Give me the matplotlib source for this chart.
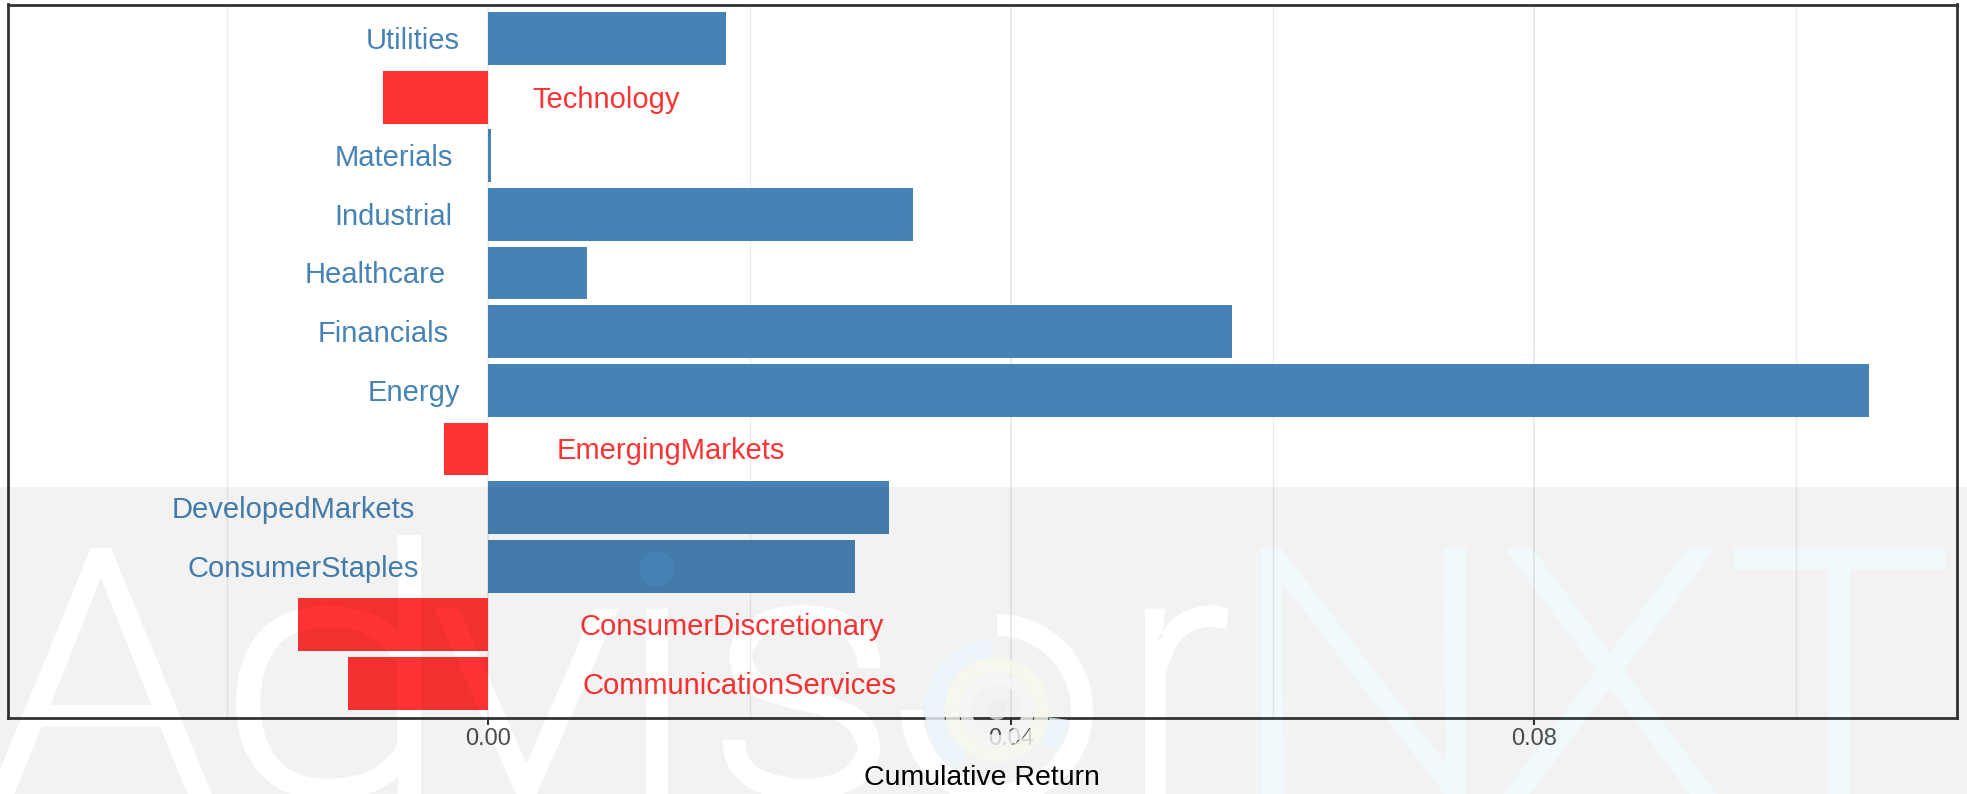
import numpy as np
import matplotlib
matplotlib.use('Agg')
import matplotlib.pyplot as plt
from matplotlib.path import Path
from matplotlib.patches import PathPatch, Circle
from matplotlib.textpath import TextPath
from matplotlib.font_manager import FontProperties
from matplotlib.transforms import Affine2D, offset_copy
from matplotlib.ticker import FixedLocator

# ---------------- data ----------------
sectors = ["CommunicationServices", "ConsumerDiscretionary", "ConsumerStaples",
           "DevelopedMarkets", "EmergingMarkets", "Energy", "Financials",
           "Healthcare", "Industrial", "Materials", "Technology", "Utilities"]
returns = [-0.0107, -0.0145, 0.0281, 0.0307, -0.0034, 0.1056, 0.0569,
           0.0076, 0.0325, 0.0002, -0.0080, 0.0182]
xticks = [0.00, 0.04, 0.08]
xtick_labels = ["0.00", "0.04", "0.08"]
minor_ticks = [-0.02, 0.02, 0.06, 0.10]
x_title = "Cumulative Return"
wm_white = ["A", "d", "v", "i", "s", "r"]
wm_cyan = ["N", "X", "T"]

POS_COLOR = '#4682B4'
NEG_COLOR = '#FF3333'

W, H = 1967, 794
DPI = 100
plt.rcParams['font.family'] = ['Liberation Sans', 'DejaVu Sans']

fig = plt.figure(figsize=(W / DPI, H / DPI), dpi=DPI, facecolor='white')
L, R, T, B = 7.5, 1956.5, 4.5, 717.5
ax = fig.add_axes([L / W, (H - B) / H, (R - L) / W, (B - T) / H])
ax.set_facecolor('white')

pos = np.arange(1, len(sectors) + 1)
colors = [POS_COLOR if v >= 0 else NEG_COLOR for v in returns]
ax.barh(pos, returns, height=0.9, color=colors, zorder=2)
ax.set_xlim(-0.03675, 0.11231)
ax.set_ylim(0.42, len(sectors) + 0.58)
ax.set_yticks([])
ax.xaxis.set_major_locator(FixedLocator(xticks))
ax.set_xticklabels(xtick_labels)
ax.xaxis.set_minor_locator(FixedLocator(minor_ticks))
ax.set_axisbelow(True)
ax.grid(True, which='major', axis='x', color='#EBEBEB', lw=1.4)
ax.grid(True, which='minor', axis='x', color='#EBEBEB', lw=1.0)
ax.tick_params(axis='x', which='major', length=5, width=1.5, color='#333333',
               labelsize=17, labelcolor='#4D4D4D', pad=2.5)
ax.tick_params(axis='x', which='minor', length=0)
ax.tick_params(axis='y', length=0)
for s in ax.spines.values():
    s.set_color('#333333')
    s.set_linewidth(2.0)
ax.set_xlabel(x_title, fontsize=20.5, color='black')
ax.xaxis.label.set_va('baseline')
ax.xaxis.set_label_coords(0.5, -(785 - B) / (B - T))

# bar labels: beside zero, offset by 30% of their width
renderer = fig.canvas.get_renderer()
fs = 21
for p, v, name in zip(pos, returns, sectors):
    c = POS_COLOR if v >= 0 else NEG_COLOR
    t = ax.text(0, p, name, ha='right' if v >= 0 else 'left', va='baseline',
                fontsize=fs, color=c, zorder=3)
    w = t.get_window_extent(renderer).width
    dx = -0.3 * w if v >= 0 else 0.3 * w
    t.set_transform(offset_copy(ax.transData, fig=fig, x=dx,
                                y=-0.358 * fs * DPI / 72, units='dots'))

# ---------------- watermark ----------------
pix = Affine2D().scale(1 / W, 1 / H) + fig.transFigure
fp = FontProperties(family=['Roboto', 'DejaVu Sans'], weight='light')


def sarea(p):
    x, y = p[:, 0], p[:, 1]
    return 0.5 * np.sum(x * np.roll(y, -1) - np.roll(x, -1) * y)


def clean(q):
    q = np.asarray(q, float)
    keep = [0]
    for i in range(1, len(q)):
        if np.hypot(*(q[i] - q[keep[-1]])) > 1e-6:
            keep.append(i)
    q = q[keep]
    if len(q) > 1 and np.hypot(*(q[-1] - q[0])) < 1e-6:
        q = q[:-1]
    return q


def offset_poly(q, d, sign):
    if d <= 0:
        return q
    en = np.roll(q, -1, 0) - q
    ep = q - np.roll(q, 1, 0)
    en /= np.hypot(en[:, 0], en[:, 1])[:, None]
    ep /= np.hypot(ep[:, 0], ep[:, 1])[:, None]
    nn = sign * np.c_[en[:, 1], -en[:, 0]]
    npv = sign * np.c_[ep[:, 1], -ep[:, 0]]
    m = nn + npv
    mn = np.hypot(m[:, 0], m[:, 1])
    mn[mn < 1e-9] = 1.0
    m /= mn[:, None]
    cosh = np.clip(np.sum(m * nn, axis=1), 0.5, 1.0)
    return q + m * (d / cosh)[:, None]


STEM = 22.0
CAP_TOP = 794 - 548
INK_BASE = -3.0
hp = TextPath((0, 0), 'H', size=100, prop=fp)
lp = TextPath((0, 0), 'l', size=100, prop=fp)
k0 = (CAP_TOP - INK_BASE) / hp.get_extents().y1
stem0 = lp.get_extents().width * k0
d = max(0.0, (STEM - stem0) / 2)
k = (CAP_TOP - INK_BASE - 2 * d) / hp.get_extents().y1
base = INK_BASE + d


def glyph(ch, x0=None, x1=None, cx=None, dot_y=None):
    tp = TextPath((0, 0), ch, size=100, prop=fp)
    polys = [clean(q) for q in tp.to_polygons()]
    polys = [q for q in polys if len(q) > 2]
    allp = np.vstack(polys)
    gx0, gx1 = allp[:, 0].min(), allp[:, 0].max()
    if x0 is not None:
        sx = max((x1 - x0) - 2 * d, 1.0) / (gx1 - gx0)
        cx = (x0 + x1) / 2
    else:
        sx = k
    out = []
    for q in polys:
        q2 = np.c_[(q[:, 0] - (gx0 + gx1) / 2) * sx + cx, q[:, 1] * k + base]
        out.append(q2)
    big = max(out, key=lambda q: abs(sarea(q)))
    sign = 1.0 if sarea(big) > 0 else -1.0
    out = [offset_poly(q, d, sign) for q in out]
    if dot_y is not None and len(out) > 1:
        # place the dot of the "i" where the reference shows it
        j = int(np.argmax([q[:, 1].mean() for q in out]))
        c = out[j].mean(axis=0)
        out[j] = (out[j] - c) * 1.12 + np.array([c[0], dot_y])
    big = max(out, key=lambda q: abs(sarea(q)))
    if sarea(big) > 0:          # holes must run opposite to the (CCW) rectangle
        out = [q[::-1] for q in out]
    return out


def ring(cx, cy, r_out, r_in, t1, t2, n=200):
    th = np.radians(np.linspace(t1, t2, n))
    outer = np.c_[cx + r_out * np.cos(th), cy + r_out * np.sin(th)]
    inner = np.c_[cx + r_in * np.cos(th[::-1]), cy + r_in * np.sin(th[::-1])]
    poly = np.vstack([outer, inner])
    if sarea(poly) > 0:
        poly = poly[::-1]
    return poly


def compound(polys):
    verts, codes = [], []
    for q in polys:
        verts.extend(q.tolist())
        verts.append(q[0].tolist())
        codes.extend([Path.MOVETO] + [Path.LINETO] * (len(q) - 1) + [Path.CLOSEPOLY])
    return Path(np.array(verts), codes)


# ink extents of each watermark letter, in pixels
white_ext = [(-8, 210), (236, 421), (438, 615), None, (723, 880), (1145, 1228)]
cyan_ext = [(1261, 1466), (1507, 1713), (1734, 1945)]
logo_c = (997, 794 - 710)

hole_polys = []
for ch, ext in zip(wm_white, white_ext):
    if ext is None:
        hole_polys += glyph(ch, cx=657, dot_y=794 - 569)
    else:
        hole_polys += glyph(ch, ext[0], ext[1])
cyan_polys = []
for ch, ext in zip(wm_cyan, cyan_ext):
    cyan_polys += glyph(ch, ext[0], ext[1])
hole_polys += cyan_polys
hole_polys.append(ring(logo_c[0], logo_c[1], 96, 74, 180, 450))

band_top = 794 - 487
rect = np.array([[0, 0], [W, 0], [W, band_top], [0, band_top]], float)
overlay = PathPatch(compound([rect] + hole_polys), facecolor='black',
                    edgecolor='none', alpha=0.05, transform=pix, zorder=10)
fig.add_artist(overlay)
fig.add_artist(PathPatch(compound(cyan_polys), facecolor='#00B4E6', edgecolor='none',
                         alpha=0.06, transform=pix, zorder=11))

# logo rings
for (ro, ri, t1, t2, col) in [(72, 53, 95, 235, '#EBF7FD'),
                              (72, 53, -35, -8, '#EBF7FD'),
                              (52, 38, 0, 360, '#F6FBEC'),
                              (37, 25, 0, 360, '#F7F7F7')]:
    fig.add_artist(PathPatch(compound([ring(logo_c[0], logo_c[1], ro, ri, t1, t2)]),
                             facecolor=col, edgecolor='none', alpha=0.8,
                             transform=pix, zorder=12))
fig.add_artist(Circle(logo_c, 10, facecolor='#EDEDED', edgecolor='none',
                      alpha=0.7, transform=pix, zorder=12))

fig.savefig('out.png', dpi=DPI, facecolor='white')
